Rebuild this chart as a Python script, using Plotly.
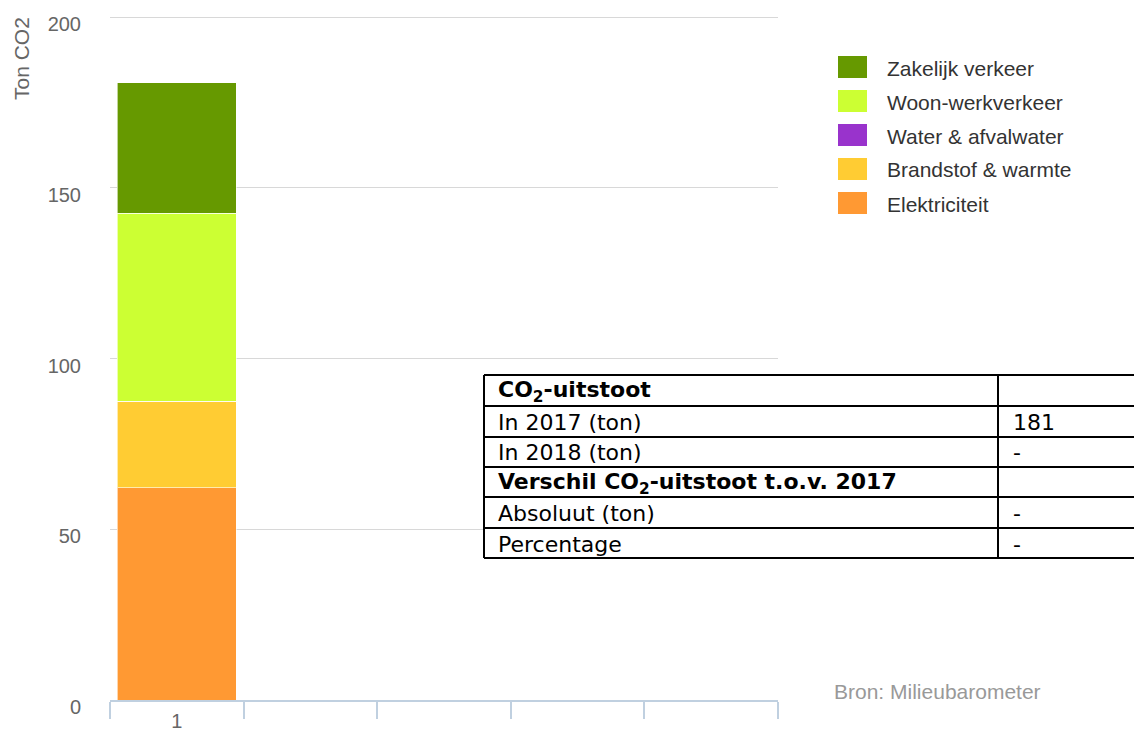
import plotly.graph_objects as go

# ---------------- data ----------------
categories = ["1"]
all_slots = ["1", "2", "3", "4", "5"]
tick_labels = ["1", "", "", "", ""]
series_names = ["Elektriciteit", "Brandstof & warmte", "Water & afvalwater",
                "Woon-werkverkeer", "Zakelijk verkeer"]
elektriciteit = [62.1]
brandstof = [25.4]
water = [0.0]
woon_werk = [55.1]
zakelijk = [38.2]
series_colors = ["#ff9933", "#ffcc33", "#9933cc", "#ccff33", "#669900"]
y_ticks = [0, 50, 100, 150, 200]

table_rows = [
    ("<b>CO<sub>2</sub>-uitstoot</b>", ""),
    ("In 2017 (ton)", "181"),
    ("In 2018 (ton)", "-"),
    ("<b>Verschil CO<sub>2</sub>-uitstoot t.o.v. 2017</b>", ""),
    ("Absoluut (ton)", "-"),
    ("Percentage", "-"),
]
source_text = "Bron: Milieubarometer"
y_title = "Ton CO2"

# ---------------- layout helpers (pixel -> paper) ----------------
W, H = 1134, 736
PL, PR, PT, PB = 110, 778, 16, 700


def px(x):
    return (x - PL) / (PR - PL)


def py(y):
    return (PB - y) / (PB - PT)


series_values = [elektriciteit, brandstof, water, woon_werk, zakelijk]

fig = go.Figure()
for name, vals, col in zip(series_names, series_values, series_colors):
    fig.add_trace(go.Bar(
        x=categories, y=vals, name=name,
        marker=dict(color=col, line=dict(color="rgba(255,255,255,0.6)", width=1)),
        width=0.89, showlegend=False,
    ))

shapes = []
annotations = []

# manual legend (top item = last series)
leg_x0, leg_y0, leg_dy = 838, 67, 34
for i, (name, col) in enumerate(zip(reversed(series_names), reversed(series_colors))):
    cy = leg_y0 + i * leg_dy
    shapes.append(dict(type="rect", xref="paper", yref="paper",
                       x0=px(leg_x0), x1=px(leg_x0 + 29),
                       y0=py(cy + 11), y1=py(cy - 11),
                       fillcolor=col, line=dict(width=0), layer="above"))
    annotations.append(dict(text=name, xref="paper", yref="paper",
                            x=px(885), y=py(cy + 1), xanchor="left", yanchor="middle",
                            showarrow=False,
                            font=dict(family="Liberation Sans, Arial", size=21, color="#333333")))

# y-axis title near top
annotations.append(dict(text=y_title, xref="paper", yref="paper",
                        x=px(21), y=py(59), xanchor="center", yanchor="middle",
                        textangle=-90, showarrow=False,
                        font=dict(family="Liberation Sans, Arial", size=21, color="#666666")))

# source credit
annotations.append(dict(text=source_text, xref="paper", yref="paper",
                        x=px(832), y=py(691), xanchor="left", yanchor="middle",
                        showarrow=False,
                        font=dict(family="Liberation Sans, Arial", size=21, color="#999999")))

# table
t_left, t_div, t_right = 484, 998, 1140
row_lines = [375, 406, 437, 467, 497, 528, 558]
shapes.append(dict(type="rect", xref="paper", yref="paper",
                   x0=px(t_left), x1=px(t_right), y0=py(row_lines[-1]), y1=py(row_lines[0]),
                   fillcolor="white", line=dict(width=0), layer="above"))
for yl in row_lines:
    shapes.append(dict(type="line", xref="paper", yref="paper",
                       x0=px(t_left), x1=px(t_right), y0=py(yl), y1=py(yl),
                       line=dict(color="black", width=2), layer="above"))
for xl in (t_left, t_div):
    shapes.append(dict(type="line", xref="paper", yref="paper",
                       x0=px(xl), x1=px(xl), y0=py(row_lines[0]), y1=py(row_lines[-1]),
                       line=dict(color="black", width=2), layer="above"))
for i, (lab, val) in enumerate(table_rows):
    cy = (row_lines[i] + row_lines[i + 1]) / 2 + 1
    annotations.append(dict(text=lab, xref="paper", yref="paper",
                            x=px(496), y=py(cy), xanchor="left", yanchor="middle",
                            showarrow=False,
                            font=dict(family="DejaVu Sans", size=22, color="black")))
    if val:
        annotations.append(dict(text=val, xref="paper", yref="paper",
                                x=px(1011), y=py(cy), xanchor="left", yanchor="middle",
                                showarrow=False,
                                font=dict(family="DejaVu Sans", size=22, color="black")))

fig.update_layout(
    width=W, height=H,
    margin=dict(l=PL, r=W - PR, t=PT, b=H - PB, pad=0),
    barmode="stack",
    paper_bgcolor="white", plot_bgcolor="white",
    font=dict(family="Liberation Sans, Arial", size=20, color="#666666"),
    shapes=shapes, annotations=annotations,
    xaxis=dict(
        type="category", categoryorder="array", categoryarray=all_slots,
        range=[-0.5, len(all_slots) - 0.5],
        tickmode="array", tickvals=all_slots, ticktext=tick_labels,
        tickson="boundaries", ticks="outside", ticklen=17, tickwidth=1.5,
        tickcolor="#c0d0e0", showline=True, linecolor="#c0d0e0", linewidth=1.5,
        showgrid=False, zeroline=False, automargin=False,
        ticklabelstandoff=2,
        tickfont=dict(size=20, color="#666666"),
    ),
    yaxis=dict(
        range=[0, 200.3], tickvals=y_ticks, showgrid=True, gridcolor="#d8d8d8",
        gridwidth=1.3, zeroline=False, showline=False, automargin=False,
        ticks="", ticklabelstandoff=28, ticklabelshift=7,
        tickfont=dict(size=20, color="#666666"),
    ),
)

fig.write_html("out.html", config={"displayModeBar": False},
               post_script="document.body.style.margin='0';")
